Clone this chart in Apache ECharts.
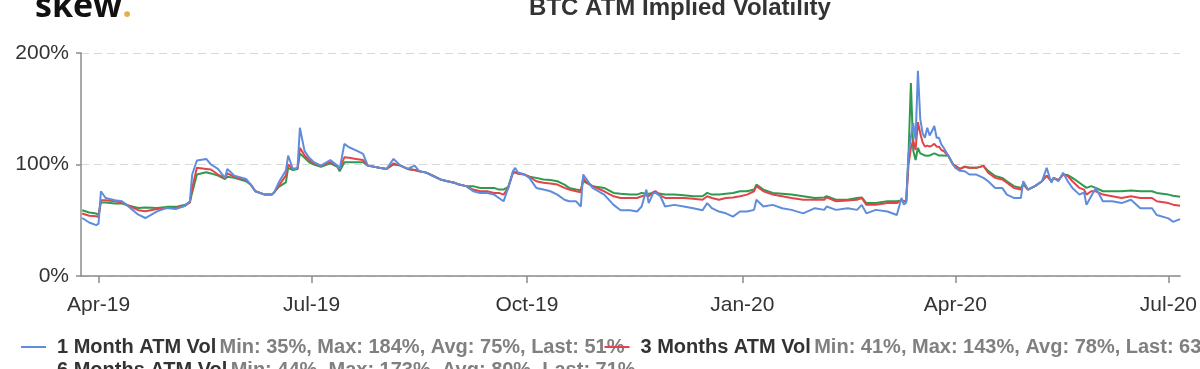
<!DOCTYPE html>
<html>
<head>
<meta charset="utf-8">
<script src="https://cdn.jsdelivr.net/npm/echarts@6/dist/echarts.min.js"></script>
<style>
html,body{margin:0;padding:0;background:#fff;}
#chart{width:1200px;height:369px;}
</style>
</head>
<body>
<div id="chart"></div>
<script>
const titleText = 'BTC ATM Implied Volatility';
const seriesNames = ['1 Month ATM Vol', '3 Months ATM Vol', '6 Months ATM Vol'];
const seriesStats = [
  'Min: 35%, Max: 184%, Avg: 75%, Last: 51%',
  'Min: 41%, Max: 143%, Avg: 78%, Last: 63%',
  'Min: 44%, Max: 173%, Avg: 80%, Last: 71%'
];
const tickDates = ['2019-04-01','2019-07-01','2019-10-01','2020-01-01','2020-04-01','2020-07-01'];
const tickLabels = ['Apr-19','Jul-19','Oct-19','Jan-20','Apr-20','Jul-20'];
const yTicks = [0, 100, 200];
const xRange = ['2019-03-24T12:00:00', '2020-07-06T00:00:00'];

const dates = [
'2019-03-25','2019-03-28','2019-03-31','2019-04-01','2019-04-02','2019-04-04','2019-04-08','2019-04-11','2019-04-14','2019-04-18',
'2019-04-21','2019-04-26','2019-04-30','2019-05-04','2019-05-08','2019-05-10','2019-05-11','2019-05-13','2019-05-17','2019-05-19',
'2019-05-22','2019-05-25','2019-05-26','2019-05-29','2019-06-03','2019-06-05','2019-06-07','2019-06-11','2019-06-14','2019-06-15',
'2019-06-17','2019-06-20','2019-06-21','2019-06-23','2019-06-25','2019-06-26','2019-06-28','2019-06-30','2019-07-02','2019-07-05',
'2019-07-09','2019-07-12','2019-07-13','2019-07-15','2019-07-17','2019-07-20','2019-07-23','2019-07-25','2019-07-30','2019-08-02',
'2019-08-05','2019-08-08','2019-08-11','2019-08-14','2019-08-16','2019-08-19','2019-08-22','2019-08-25','2019-08-28','2019-08-31',
'2019-09-02','2019-09-05','2019-09-08','2019-09-11','2019-09-14','2019-09-17','2019-09-19','2019-09-21','2019-09-23','2019-09-25',
'2019-09-26','2019-09-27','2019-09-30','2019-10-02','2019-10-05','2019-10-08','2019-10-11','2019-10-14','2019-10-17','2019-10-19',
'2019-10-22','2019-10-24','2019-10-25','2019-10-26','2019-10-29','2019-11-03','2019-11-07','2019-11-10','2019-11-14','2019-11-17',
'2019-11-19','2019-11-21','2019-11-22','2019-11-24','2019-11-25','2019-11-27','2019-11-29','2019-12-03','2019-12-07','2019-12-11',
'2019-12-15','2019-12-17','2019-12-19','2019-12-22','2019-12-25','2019-12-28','2019-12-31','2020-01-03','2020-01-06','2020-01-07',
'2020-01-10','2020-01-14','2020-01-18','2020-01-22','2020-01-27','2020-02-01','2020-02-05','2020-02-06','2020-02-10','2020-02-15',
'2020-02-19','2020-02-21','2020-02-23','2020-02-27','2020-03-03','2020-03-07','2020-03-09','2020-03-10','2020-03-11','2020-03-12',
'2020-03-13','2020-03-14','2020-03-15','2020-03-16','2020-03-17','2020-03-18','2020-03-19','2020-03-20','2020-03-21','2020-03-22',
'2020-03-23','2020-03-24','2020-03-25','2020-03-26','2020-03-27','2020-03-29','2020-03-31','2020-04-01','2020-04-03','2020-04-05',
'2020-04-07','2020-04-10','2020-04-13','2020-04-15','2020-04-18','2020-04-21','2020-04-23','2020-04-26','2020-04-29','2020-04-30',
'2020-05-02','2020-05-05','2020-05-08','2020-05-10','2020-05-12','2020-05-13','2020-05-15','2020-05-17','2020-05-19','2020-05-21',
'2020-05-24','2020-05-26','2020-05-27','2020-05-29','2020-05-31','2020-06-03','2020-06-07','2020-06-11','2020-06-15','2020-06-19',
'2020-06-24','2020-06-26','2020-07-01','2020-07-03','2020-07-06'
];

const vol1m = [
52,48,45.6,47,76,70,68,67,62,55,
52,58,61,60,63,67,91,103.6,105,100,
96,88,96,90,87,82,76,73,73,75,
84,94.5,108,96,97,133,112,106,102,99,
104,99,96,118.5,115.5,112.6,109.5,99,97,96,
105,99,96,99,94,92.7,89.7,86.6,85,83.6,
82,80.6,76,74.5,74.5,73,70,67,79,94,
97,93,91,88,79,77.5,76,73,68.4,67,
67,62.3,91,88,79,73,63.8,59,59,57.8,
62.3,77.5,65.4,74.5,74.5,71.5,62.3,63.8,62.3,60.8,
59,65.4,60.8,57.8,56.2,53.2,57.8,57.8,59.3,68.4,
62.3,63.8,60.8,59.3,56.2,60.8,59.3,62.3,59.3,60.8,
59.3,63.8,56.2,59.3,57.8,54.7,70,64,66,109,
125,137,122,184,141,128,124,133,126,130,
134.6,124,124,118,115,107.8,100,97,94.3,94,
91,91,88,85,79,79,73,70,70,85,
77.5,80.6,85,97,83.6,88,85,92.7,85,79,
73,75,63.8,71.5,79,67,67,65.4,68.4,60.8,
60.8,54.7,51.7,48.6,51
];

const vol3m = [
56,54,53.5,53,68,68,67,66,63,59,
58,60,61,61,63,66,79,97,96,95.5,
91,88,92,89,86,82,76,73,73,75,
81,90,100,96,96,115,108,104,101,99,
102,99,96,106.5,106,105,104,99,97,96,
101,99,96,95,94,92.7,89.7,86.6,85,83.6,
82,80.6,77.5,76,76,74.5,74.5,73,79,92.7,
93,92,91,89,85,83.6,83,82,79,77.5,
76,75,88,85,80.6,76,71.5,70,70,70,
71.5,72.5,71.5,75.4,76,72,70,70,70,69.3,
68.4,71.5,70,68.4,70,70.5,71.5,73,76,80.6,
76,73,71.5,70,68.4,68.4,68.4,70.5,67,67.7,
68.4,70,63.8,63.8,65.4,65.4,68.4,67,67,100,
115,121.6,113,138,128,120,116,117,116,117,
118.5,116,116,113,112,107.8,100,98.8,96,98,
97,97,98.8,92.7,88,86.6,83.6,79,77.5,83,
77.5,80.6,85,90,85,88,86,91,89.7,85,
79,77.5,73,76,76,73,71.5,70,71.5,70,
70,67,65.4,64,63
];

const vol6m = [
59,57,56,55,66,66,65,65,63,61,
61.5,61,62,62,64,66,75,91,93,92,
90,87,89,88,85,82,76,73,73,75,
80,84,97,95,96,110,106,102,100,98,
101,98,94,102,102,102,102,99,97,96,
100,99,96,95,94,92.7,89.7,86.6,85,83.6,
82,80.6,80.6,79,79,79,77.5,77.5,80,92.7,
93,92,91,89,88,86.6,86,85,82,79,
77.5,77,85,84,80.6,79,74.5,73.8,73,73,
74.5,73.8,73.8,74.5,74.5,73.8,73,73,72.5,71.5,
71.5,74.5,73,73,73.8,74.5,76,76,77.5,82,
77.5,74.5,73.8,73,71.5,70,70.5,71.5,68.4,68.4,
70,70.5,65.4,65.4,67,67,67.7,67,67,110,
173,112.6,104,115,110,109,108,107.8,108,109,
110,109,108,108,108,107.8,100,98.8,96,98,
97,97,98.8,94.3,89.7,88,85,80.6,79,82,
77.5,80.6,85,90,85,88,86,91,90.5,88,
83.6,80.6,79,80.6,79,76,76,76,76.6,76,
76,74.5,73,72,71
];

const colors = ['#5f8ddb', '#e2444a', '#2f9a4f'];
const FONT = '"Liberation Sans", Arial, sans-serif';

function ts(d) { return +new Date(d.length > 10 ? d : d + 'T00:00:00'); }
const tickTs = tickDates.map(ts);
function toSeries(vals) {
  return dates.map((d, i) => [ts(d), vals[i]]);
}
const allVals = [vol1m, vol3m, vol6m];

const chart = echarts.init(document.getElementById('chart'), null, {renderer: 'canvas'});

function legendFmt(name) {
  const i = seriesNames.indexOf(name);
  return '{n|' + name + '} {s|' + seriesStats[i] + '}';
}
const legendText = {
  fontFamily: FONT,
  rich: {
    n: {fontFamily: FONT, fontSize: 20, fontWeight: 'bold', color: '#333333', padding: [0, 0, 0, 6], lineHeight: 20},
    s: {fontFamily: FONT, fontSize: 20, fontWeight: 'bold', color: '#808080', lineHeight: 20}
  }
};

const option = {
  animation: false,
  backgroundColor: '#ffffff',
  graphic: [
    {
      type: 'text', left: 35, top: -10, silent: true,
      style: {
        text: '{a|skew}{b|.}',
        rich: {
          a: {fontFamily: '"Open Sans", Arial, sans-serif', fontSize: 34, fontWeight: 'bold', fill: '#111111'},
          b: {fontFamily: '"Open Sans", Arial, sans-serif', fontSize: 34, fontWeight: 'bold', fill: '#e5ad4c'}
        }
      }
    },
    {
      type: 'text', x: 680, y: 8, silent: true,
      style: {
        text: titleText, fontFamily: FONT, fontSize: 24, fontWeight: 'bold',
        fill: '#333333', align: 'center', verticalAlign: 'middle'
      }
    }
  ],
  legend: [
    {
      data: [seriesNames[0], seriesNames[1]],
      left: 21, top: 337, padding: 0, itemGap: -20, width: 3000,
      itemWidth: 25, itemHeight: 2, icon: 'rect',
      formatter: legendFmt, textStyle: legendText, selectedMode: false
    },
    {
      data: [seriesNames[2]],
      left: 21, top: 360, padding: 0, width: 3000,
      itemWidth: 25, itemHeight: 2, icon: 'rect',
      formatter: legendFmt, textStyle: legendText, selectedMode: false
    }
  ],
  grid: {left: 81, right: 15, top: 53, bottom: 93, containLabel: false},
  xAxis: {
    type: 'value',
    min: ts(xRange[0]),
    max: ts(xRange[1]),
    axisLine: {show: true, lineStyle: {color: '#8c8c8c', width: 1.5}},
    axisTick: {show: true, length: 7, lineStyle: {color: '#8c8c8c', width: 1.5}, customValues: tickTs},
    axisLabel: {
      customValues: tickTs,
      formatter: function (v) {
        let best = 0, bd = Infinity;
        tickTs.forEach((t, i) => { const d = Math.abs(t - v); if (d < bd) { bd = d; best = i; } });
        return tickLabels[best];
      },
      fontFamily: FONT, fontSize: 21, color: '#333333', margin: 19
    },
    splitLine: {show: false}
  },
  yAxis: {
    type: 'value', min: 0, max: 200, interval: 100,
    axisLine: {show: true, lineStyle: {color: '#8c8c8c', width: 1.5}},
    axisTick: {show: true, length: 5, lineStyle: {color: '#8c8c8c', width: 1.5}},
    axisLabel: {
      formatter: v => (yTicks.indexOf(v) >= 0 ? v + '%' : ''),
      fontFamily: FONT, fontSize: 21, color: '#333333', margin: 12
    },
    splitLine: {show: true, lineStyle: {color: '#d9d9d9', type: [8, 5], width: 1}}
  },
  series: seriesNames.map((name, i) => ({
    name: name,
    type: 'line',
    data: toSeries(allVals[i]),
    showSymbol: false,
    symbol: 'none',
    z: 10 - i,
    lineStyle: {color: colors[i], width: 2},
    itemStyle: {color: colors[i]}
  }))
};
chart.setOption(option);
</script>
</body>
</html>
